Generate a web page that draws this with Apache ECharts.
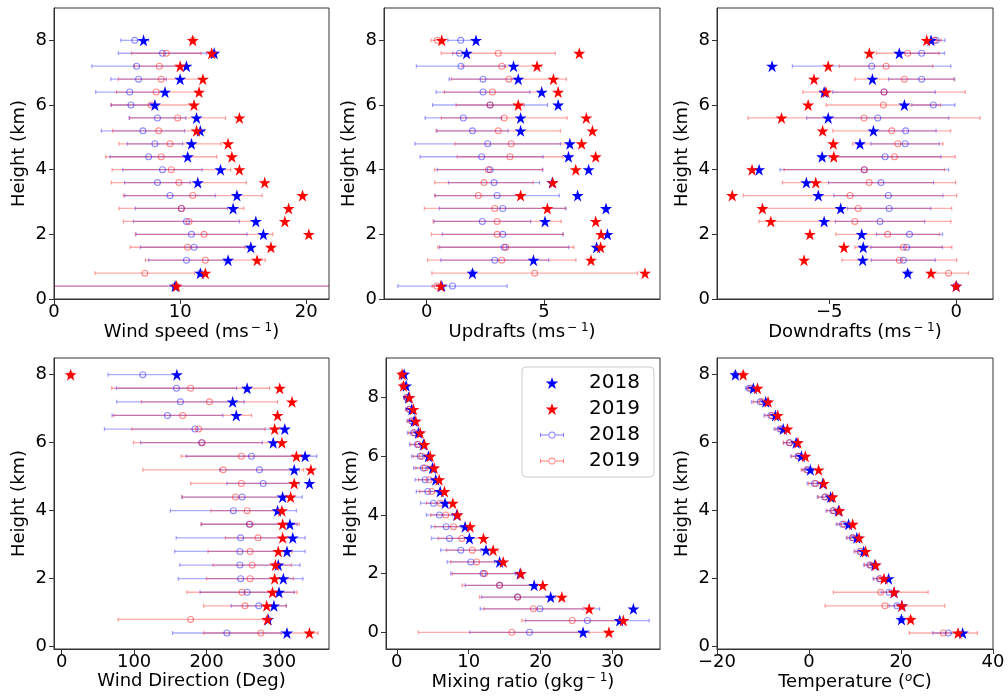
<!DOCTYPE html>
<html>
<head>
<meta charset="utf-8">
<script src="https://cdn.jsdelivr.net/npm/echarts@6/dist/echarts.min.js"></script>
<style>
  html, body { margin: 0; padding: 0; background: #fff; }
  #chart { width: 1008px; height: 696px; }
</style>
</head>
<body>
<div id="chart"></div>
<script>
// heights (km), top row to bottom row
const heights = [8.0, 7.6, 7.2, 6.8, 6.4, 6.0, 5.6, 5.2, 4.8, 4.4, 4.0, 3.6, 3.2, 2.8, 2.4, 2.0, 1.6, 1.2, 0.8, 0.4];
const mixHeights = [8.8, 8.4, 8.0, 7.6, 7.2, 6.8, 6.4, 6.0, 5.6, 5.2, 4.8, 4.4, 4.0, 3.6, 3.2, 2.8, 2.4, 2.0, 1.6, 1.2, 0.8, 0.4, 0.0];
const heightTicks = [0, 2, 4, 6, 8];

// wind speed (m/s)
const wsStar18 = [7.1, 12.7, 10.5, 10.0, 8.8, 8.0, 11.3, 11.6, 10.9, 10.6, 13.2, 11.4, 14.5, 14.2, 16.0, 16.6, 15.6, 13.8, 11.6, 9.6];
const wsStar19 = [11.0, 12.5, 10.0, 11.8, 11.5, 11.1, 14.7, 11.3, 13.8, 14.1, 14.7, 16.7, 19.7, 18.6, 18.3, 20.2, 17.2, 16.1, 12.0, 9.7];
const wsMean18 = [6.4, 8.6, 6.55, 6.7, 6.0, 6.1, 8.2, 7.05, 8.0, 7.5, 8.6, 8.2, 9.2, 10.1, 10.5, 10.9, 11.1, 10.5, 11.6, 9.6];
const wsErr18 = [1.1, 3.5, 3.55, 2.2, 2.7, 1.6, 2.25, 3.3, 2.2, 3.05, 3.15, 2.6, 3.6, 3.65, 4.2, 4.4, 4.25, 3.0, 0, 25];
const wsMean19 = [11.0, 8.9, 8.35, 8.5, 8.1, 7.7, 9.8, 8.3, 9.2, 8.5, 9.3, 9.9, 11.0, 10.1, 10.7, 11.9, 10.6, 12.0, 7.2, 9.7];
const wsErr19 = [0, 2.75, 2.0, 3.4, 3.15, 3.15, 3.8, 3.65, 4.05, 4.4, 4.7, 5.35, 5.5, 4.95, 5.2, 5.45, 4.55, 4.75, 3.95, 25];

// updrafts (m/s)
const upStar18 = [2.1, 1.7, 3.7, 3.9, 4.9, 5.6, 4.0, 4.0, 6.1, 6.04, 6.9, 5.35, 6.43, 7.64, 5.04, 7.7, 7.24, 4.55, 1.95, 0.64];
const upStar19 = [0.64, 6.5, 4.7, 5.4, 5.6, 3.9, 6.8, 7.06, 6.6, 7.2, 6.35, 5.37, 4.0, 5.14, 7.2, 7.43, 7.41, 7.0, 9.3, 0.6];
const upMean18 = [1.45, 1.4, 1.46, 2.4, 2.4, 2.7, 1.56, 1.95, 2.6, 2.34, 2.7, 2.87, 3.0, 3.24, 2.37, 3.24, 3.3, 2.9, 1.95, 1.1];
const upErr18 = [0.55, 0.3, 1.9, 1.45, 2.0, 2.45, 1.63, 1.52, 3.1, 2.62, 2.25, 1.94, 2.65, 2.7, 2.06, 2.58, 2.75, 2.3, 0, 2.33];
const upMean19 = [0.45, 3.05, 3.2, 3.5, 2.8, 2.7, 3.3, 3.05, 3.6, 3.55, 2.63, 2.44, 2.2, 2.9, 3.0, 3.0, 3.37, 3.2, 4.6, 0.43];
const upErr19 = [0.27, 2.43, 1.7, 2.45, 2.05, 1.45, 2.68, 2.65, 2.4, 2.25, 2.3, 2.1, 1.85, 3.0, 2.73, 2.8, 2.9, 3.16, 4.38, 0.2];

// downdrafts (m/s)
const dnStar18 = [-0.99, -2.24, -7.25, -3.3, -5.2, -2.04, -5.04, -3.26, -3.79, -5.28, -7.76, -5.9, -5.43, -4.55, -5.2, -3.72, -3.66, -3.68, -1.91, 0];
const dnStar19 = [-1.16, -3.42, -5.04, -5.6, -5.13, -5.83, -6.88, -5.26, -4.84, -4.82, -8.04, -5.53, -8.82, -7.63, -7.3, -5.76, -4.42, -5.99, -0.99, 0];
const dnMean18 = [-0.79, -1.36, -3.33, -1.36, -2.84, -0.9, -3.09, -1.99, -2.01, -2.8, -3.62, -2.96, -2.67, -2.64, -3.0, -1.84, -1.95, -2.08, -1.91, 0];
const dnErr18 = [0.35, 0.9, 3.12, 1.3, 2.02, 0.85, 2.8, 1.2, 1.35, 2.2, 3.32, 2.07, 2.15, 1.64, 1.76, 1.3, 1.41, 1.26, 0, 0];
const dnMean19 = [-0.86, -1.91, -2.76, -2.04, -2.84, -2.87, -3.63, -2.54, -2.3, -2.43, -3.62, -3.43, -4.18, -3.86, -3.99, -2.7, -2.08, -2.24, -0.3, 0];
const dnErr19 = [0.26, 1.24, 1.84, 1.95, 3.2, 2.25, 4.57, 2.32, 1.78, 2.39, 3.16, 3.41, 4.2, 3.68, 3.78, 2.04, 1.91, 2.26, 0.78, 0];

// wind direction (deg)
const wdStar18 = [159, 256, 236, 241, 308, 292, 336, 321, 342, 305, 298, 315, 319, 311, 299, 306, 300, 293, 285, 311];
const wdStar19 = [12.4, 301, 318, 298, 294, 304, 324, 344, 321, 316, 304, 305, 305, 299, 295, 294, 291, 283, 284, 342];
const wdMean18 = [112, 158.5, 164, 146, 184, 193, 262, 273, 278, 249, 237, 259, 247, 246, 246, 247, 256, 272, 285, 228];
const wdErr18 = [48, 83, 88, 76.5, 125, 84, 90, 55, 50, 83, 87, 66, 89, 90, 83, 86, 65, 38, 0, 75];
const wdMean19 = [12.4, 178, 204, 167, 189, 194, 248, 223, 248, 240, 256, 260, 271, 260, 263, 260, 249, 253, 178, 275];
const wdErr19 = [0, 109, 94, 95, 92, 95, 83, 111, 70, 74, 50, 68, 45, 58, 54, 60, 76, 57, 100, 79];

// mixing ratio (g/kg)
const mrStar18 = [1.02, 1.3, 1.62, 2.09, 2.41, 3.0, 3.7, 4.4, 4.96, 5.42, 6.03, 6.72, 8.34, 9.5, 10.1, 12.4, 14.3, 17.15, 19.1, 21.4, 32.9, 31.0, 25.9];
const mrStar19 = [0.74, 0.93, 1.76, 2.32, 2.64, 3.25, 3.85, 4.64, 5.2, 5.89, 6.63, 7.79, 8.44, 10.2, 12.05, 13.4, 14.8, 17.25, 20.3, 22.95, 26.75, 31.5, 29.5];
const mrMean18 = [0.9, 1.1, 1.4, 1.76, 2.09, 2.32, 2.87, 3.25, 3.7, 3.94, 4.31, 5.1, 5.93, 6.86, 7.33, 8.9, 10.3, 12.0, 14.3, 16.8, 19.9, 26.5, 18.45];
const mrErr18 = [0.3, 0.3, 0.45, 0.55, 0.65, 0.85, 1.1, 1.2, 1.35, 1.4, 1.6, 1.8, 1.8, 2.1, 2.5, 2.8, 3.3, 4.5, 4.8, 5.0, 8.3, 8.6, 8.3];
const mrMean19 = [0.7, 0.9, 1.45, 1.8, 2.1, 2.46, 3.0, 3.48, 3.94, 4.5, 4.87, 6.03, 6.81, 7.88, 9.04, 10.5, 11.1, 12.2, 14.3, 16.8, 19.0, 24.4, 16.0];
const mrErr19 = [0.3, 0.3, 0.45, 0.55, 0.65, 0.8, 1.05, 1.2, 1.3, 1.5, 1.7, 1.9, 2.1, 2.6, 3.3, 3.6, 3.6, 4.5, 5.2, 5.3, 6.9, 7.0, 13.0];

// temperature (deg C)
const tStar18 = [-16.0, -12.1, -9.4, -7.3, -5.6, -2.8, -1.65, 0.3, 3.0, 4.7, 6.4, 8.6, 10.4, 11.9, 14.3, 17.3, 18.5, 20.2, 20.1, 33.4];
const tStar19 = [-14.3, -11.2, -8.9, -6.8, -4.7, -2.4, -0.8, 2.1, 3.2, 5.1, 6.6, 9.5, 10.9, 12.3, 14.5, 16.3, 18.5, 20.2, 22.1, 32.4];
const tMean18 = [-16.0, -13.0, -10.6, -8.3, -6.3, -4.2, -2.4, -0.3, 1.2, 3.4, 5.2, 7.3, 9.4, 11.1, 13.2, 15.3, 17.4, 19.1, 20.1, 30.3];
const tErr18 = [0, 0.8, 1.9, 1.5, 1.3, 1.3, 1.6, 1.2, 1.6, 1.6, 1.5, 1.4, 1.3, 1.3, 1.3, 1.4, 1.7, 1.7, 0, 3.4];
const tMean19 = [-14.3, -12.6, -10.2, -8.0, -6.0, -4.3, -2.2, -0.5, 1.5, 3.6, 5.4, 7.6, 9.6, 11.3, 13.4, 15.5, 15.6, 16.5, 22.1, 29.2];
const tErr19 = [0, 0.8, 1.9, 1.5, 1.3, 1.3, 1.6, 1.2, 1.6, 1.6, 1.5, 1.4, 1.3, 1.3, 1.3, 1.4, 10.3, 13.0, 0, 7.4];

const FONT = 'DejaVu Sans';
const BLUE = '#0000ff';
const RED = '#ff0000';
const starPath = 'path://M50,2L61.2,36.5L97.6,36.5L68.2,57.9L79.4,92.5L50,71.1L20.6,92.5L31.8,57.9L2.4,36.5L38.8,36.5Z';
const ringPath = 'path://M0,10A10,10 0 1 1 20,10A10,10 0 1 1 0,10ZM3,10A7,7 0 1 0 17,10A7,7 0 1 0 3,10Z';
const ebIcon = 'path://M0,5.5L8.6,5.5L8.6,6.5L0,6.5ZM15.4,5.5L24,5.5L24,6.5L15.4,6.5ZM0,4L1,4L1,8L0,8ZM23,4L24,4L24,8L23,8Z' +
  'M8.5,6A3.5,3.5 0 1 1 15.5,6A3.5,3.5 0 1 1 8.5,6ZM9.4,6A2.6,2.6 0 1 0 14.6,6A2.6,2.6 0 1 0 9.4,6Z' +
  'M12,0L12.02,0L12.02,0.02ZM12,12L12.02,12L12.02,11.98Z';

const richName = {
  n: { fontSize: 18, fontFamily: FONT, color: '#000' },
  s: { fontSize: 12, fontFamily: FONT, color: '#000', padding: [0, 0, 9, 2] },
  o: { fontSize: 12, fontFamily: FONT, color: '#000', fontStyle: 'italic', padding: [0, 0, 9, 0] }
};

const panels = [
  { grid: { left: 54, top: 8, width: 275, height: 291 }, x: [0, 21.8], xt: [0, 10, 20], y: [0, 9], hs: heights,
    name: '{n|Wind speed (ms}{s|− 1}{n|)}', d: [wsStar18, wsStar19, wsMean18, wsErr18, wsMean19, wsErr19] },
  { grid: { left: 384, top: 8, width: 276, height: 291 }, x: [-1.82, 9.94], xt: [0, 5], y: [0, 9], hs: heights,
    name: '{n|Updrafts (ms}{s|− 1}{n|)}', d: [upStar18, upStar19, upMean18, upErr18, upMean19, upErr19] },
  { grid: { left: 717, top: 8, width: 276, height: 291 }, x: [-9.42, 1.45], xt: [-5, 0], y: [0, 9], hs: heights,
    name: '{n|Downdrafts (ms}{s|− 1}{n|)}', d: [dnStar18, dnStar19, dnMean18, dnErr18, dnMean19, dnErr19] },
  { grid: { left: 54, top: 358, width: 275, height: 291 }, x: [-10.6, 369], xt: [0, 100, 200, 300], y: [-0.07, 8.49], hs: heights,
    name: '{n|Wind Direction (Deg)}', d: [wdStar18, wdStar19, wdMean18, wdErr18, wdMean19, wdErr19] },
  { grid: { left: 386, top: 358, width: 274, height: 291 }, x: [-1.5, 36.6], xt: [0, 10, 20, 30], y: [-0.57, 9.35], hs: mixHeights,
    name: '{n|Mixing ratio (gkg}{s|− 1}{n|)}', d: [mrStar18, mrStar19, mrMean18, mrErr18, mrMean19, mrErr19] },
  { grid: { left: 717, top: 358, width: 276, height: 291 }, x: [-20, 40], xt: [-20, 0, 20, 40], y: [-0.07, 8.49], hs: heights,
    name: '{n|Temperature (}{o|o}{n|C)}', d: [tStar18, tStar19, tMean18, tErr18, tMean19, tErr19] }
];

const fmt = v => (v < 0 ? '\u2212' + Math.abs(v) : String(v));

function errorBars(i, means, errs, hs, color) {
  return {
    type: 'custom', xAxisIndex: i, yAxisIndex: i, silent: true, z: 1,
    encode: { x: [0, 1], y: 2 },
    data: means.map((m, k) => [m - errs[k], m + errs[k], hs[k]]),
    renderItem(params, api) {
      const y = api.value(2);
      const a = api.coord([api.value(0), y]);
      const b = api.coord([api.value(1), y]);
      if (b[0] - a[0] < 0.5) return null;
      const cs = params.coordSys;
      const x0 = Math.max(a[0], cs.x), x1 = Math.min(b[0], cs.x + cs.width);
      const st = { stroke: color, lineWidth: 1.3 };
      const kids = [{ type: 'line', shape: { x1: x0, y1: a[1], x2: x1, y2: a[1] }, style: st }];
      if (a[0] >= cs.x) kids.push({ type: 'line', shape: { x1: a[0], y1: a[1] - 2, x2: a[0], y2: a[1] + 2 }, style: st });
      if (b[0] <= cs.x + cs.width) kids.push({ type: 'line', shape: { x1: b[0], y1: b[1] - 2, x2: b[0], y2: b[1] + 2 }, style: st });
      return { type: 'group', children: kids };
    }
  };
}

function points(i, name, xs, hs, symbol, size, color, z) {
  return {
    type: 'scatter', name, xAxisIndex: i, yAxisIndex: i, z,
    symbol, symbolSize: size, silent: true,
    itemStyle: { color, opacity: 1 },
    data: xs.map((v, k) => [v, hs[k]])
  };
}

const grids = [], xAxes = [], yAxes = [], series = [];
panels.forEach((p, i) => {
  grids.push(Object.assign({ show: true, borderColor: '#333', borderWidth: 1, backgroundColor: 'transparent' }, p.grid));
  xAxes.push({
    gridIndex: i, type: 'value', min: p.x[0], max: p.x[1],
    axisLine: { show: true, onZero: false, lineStyle: { color: '#333' } },
    axisTick: { show: true, customValues: p.xt, length: 5, lineStyle: { color: '#333' } },
    axisLabel: { customValues: p.xt, formatter: fmt, fontSize: 18, fontFamily: FONT, color: '#000', margin: 4 },
    splitLine: { show: false },
    name: p.name, nameLocation: 'middle', nameGap: 21,
    nameTextStyle: { rich: richName }
  });
  yAxes.push({
    gridIndex: i, type: 'value', min: p.y[0], max: p.y[1],
    axisLine: { show: true, onZero: false, lineStyle: { color: '#333' } },
    axisTick: { show: true, customValues: heightTicks, length: 5, lineStyle: { color: '#333' } },
    axisLabel: { customValues: heightTicks, fontSize: 18, fontFamily: FONT, color: '#000', margin: 7 },
    splitLine: { show: false },
    name: 'Height (km)', nameLocation: 'middle', nameGap: 26,
    nameTextStyle: { fontSize: 18, fontFamily: FONT, color: '#000' }
  });
  const [s18, s19, m18, e18, m19, e19] = p.d;
  series.push(errorBars(i, m18, e18, p.hs, 'rgba(0,0,255,0.33)'));
  series.push(errorBars(i, m19, e19, p.hs, 'rgba(255,0,0,0.33)'));
  series.push(points(i, '2018 ', m18, p.hs, ringPath, 7, 'rgba(0,0,255,0.45)', 2));
  series.push(points(i, '2019 ', m19, p.hs, ringPath, 7, 'rgba(255,0,0,0.45)', 2));
  series.push(points(i, '2018', s18, p.hs, starPath, 12, BLUE, 3));
  series.push(points(i, '2019', s19, p.hs, starPath, 12, RED, 3));
});

const chart = echarts.init(document.getElementById('chart'), null, { renderer: 'canvas' });
chart.setOption({
  animation: false,
  backgroundColor: '#fff',
  grid: grids,
  xAxis: xAxes,
  yAxis: yAxes,
  legend: {
    left: 522, top: 367, orient: 'vertical',
    padding: [6, 14, 6, 18], itemGap: 6, itemWidth: 44, itemHeight: 12,
    backgroundColor: '#fff', borderColor: '#ccc', borderWidth: 1, borderRadius: 4,
    selectedMode: false,
    formatter: n => n.trim(),
    textStyle: { fontSize: 20, fontFamily: FONT, color: '#000', lineHeight: 20, padding: [0, 0, 0, 10] },
    data: [
      { name: '2018', icon: starPath, itemStyle: { color: BLUE } },
      { name: '2019', icon: starPath, itemStyle: { color: RED } },
      { name: '2018 ', icon: ebIcon, itemStyle: { color: 'rgba(0,0,255,0.5)', borderWidth: 0 } },
      { name: '2019 ', icon: ebIcon, itemStyle: { color: 'rgba(255,0,0,0.5)', borderWidth: 0 } }
    ]
  },
  series
});
</script>
</body>
</html>
